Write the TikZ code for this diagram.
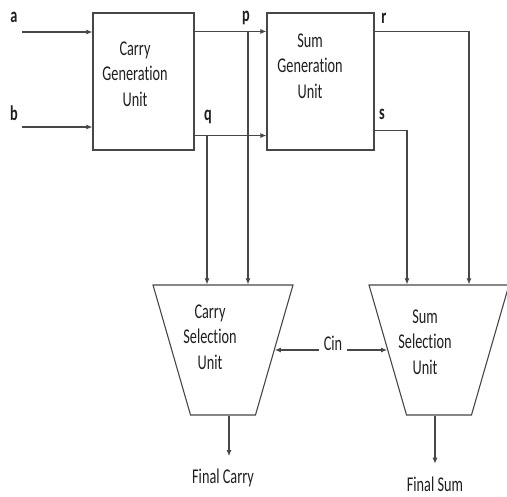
\documentclass[tikz,border=0pt]{standalone}
\usepackage{fontspec}
\newfontfamily\unitfont[FakeStretch=0.68, RawFeature={-liga}]{Carlito}
\usetikzlibrary{shapes.geometric, arrows.meta, positioning}

\begin{document}
\begin{tikzpicture}[
    x=1pt, y=-1pt,
    color=black!72, line width=1.1pt,
    font=\unitfont\fontsize{21}{25.5}\selectfont,
    genbox/.style={rectangle, draw, minimum height=137pt},
    selbox/.style={trapezium, draw, shape border rotate=180, trapezium stretches=true,
                   minimum width=140pt, minimum height=130pt, inner sep=2pt},
    unitlbl/.style={align=center, text=black!88, inner sep=0pt},
    sig/.style={font=\unitfont\bfseries\fontsize{21}{24}\selectfont, text=black!88},
    outlbl/.style={text=black!88},
    arr/.style={-{Latex[length=6pt, width=5pt]}}
]
\useasboundingbox (0,0) rectangle (507,497);

% generation units
\node[genbox, minimum width=101pt] (cgen) at (143.5,81.5) {};
\node[genbox, minimum width=107pt] (sgen) at (320.5,81.5) {};
\node[unitlbl] (cgentxt) at (135,74) {Carry\\Generation\\Unit};
\node[unitlbl] (sgentxt) at (310,66) {Sum\\Generation\\Unit};

% selection units
\node[selbox] (csel) at (223,350) {};
\node[selbox] (ssel) at (439,350) {};
\node[unitlbl] (cseltxt) at (210,337) {Carry\\Selection\\Unit};
\node[unitlbl] (sseltxt) at (425,342) {Sum\\Selection\\Unit};

% signal names
\node[sig] (la) at (14,17) {a};
\node[sig] (lb) at (14,113) {b};
\node[sig] (lp) at (246,18) {p};
\node[sig] (lq) at (208,117) {q};
\node[sig] (lr) at (384,18) {r};
\node[sig] (ls) at (382,114) {s};
\node[outlbl, inner xsep=4pt] (cin) at (333,343) {Cin};
\node[outlbl] (fcarry) at (223,478) {Final Carry};
\node[outlbl] (fsum) at (435,484) {Final Sum};

% inputs
\coordinate (ain) at (22,32);
\coordinate (bin) at (22,127);
\draw[arr] (ain) -- (ain -| cgen.west);
\draw[arr] (bin) -- (bin -| cgen.west);

% p and q to sum generation
\draw[arr] ([yshift=-19pt]cgen.north east) -- ([yshift=-19pt]sgen.north west);
\draw[arr] ([yshift=15pt]cgen.south east) -- ([yshift=15pt]sgen.south west);

% p and q down to carry selection
\coordinate (pfork) at (248,32);
\coordinate (qfork) at (207,135);
\draw[arr] (pfork) -- (pfork |- csel.north);
\draw[arr] (qfork) -- (qfork |- csel.north);

% r and s down to sum selection
\coordinate (rturn) at (469,32);
\coordinate (sturn) at (407,130);
\draw[arr] ([yshift=-19pt]sgen.north east) -| (rturn |- ssel.north);
\draw[arr] ([yshift=20pt]sgen.south east) -| (sturn |- ssel.north);

% carry in
\draw[arr] (cin.west |- csel.east) -- (csel.east);
\draw[arr] (cin.east |- ssel.west) -- (ssel.west);

% outputs
\draw[arr, shorten >=9pt] ([xshift=6pt]csel.south) -- ([xshift=6pt]csel.south |- fcarry.north);
\draw[arr, shorten >=9pt] ([xshift=-4pt]ssel.south) -- ([xshift=-4pt]ssel.south |- fsum.north);

\end{tikzpicture}
\end{document}
